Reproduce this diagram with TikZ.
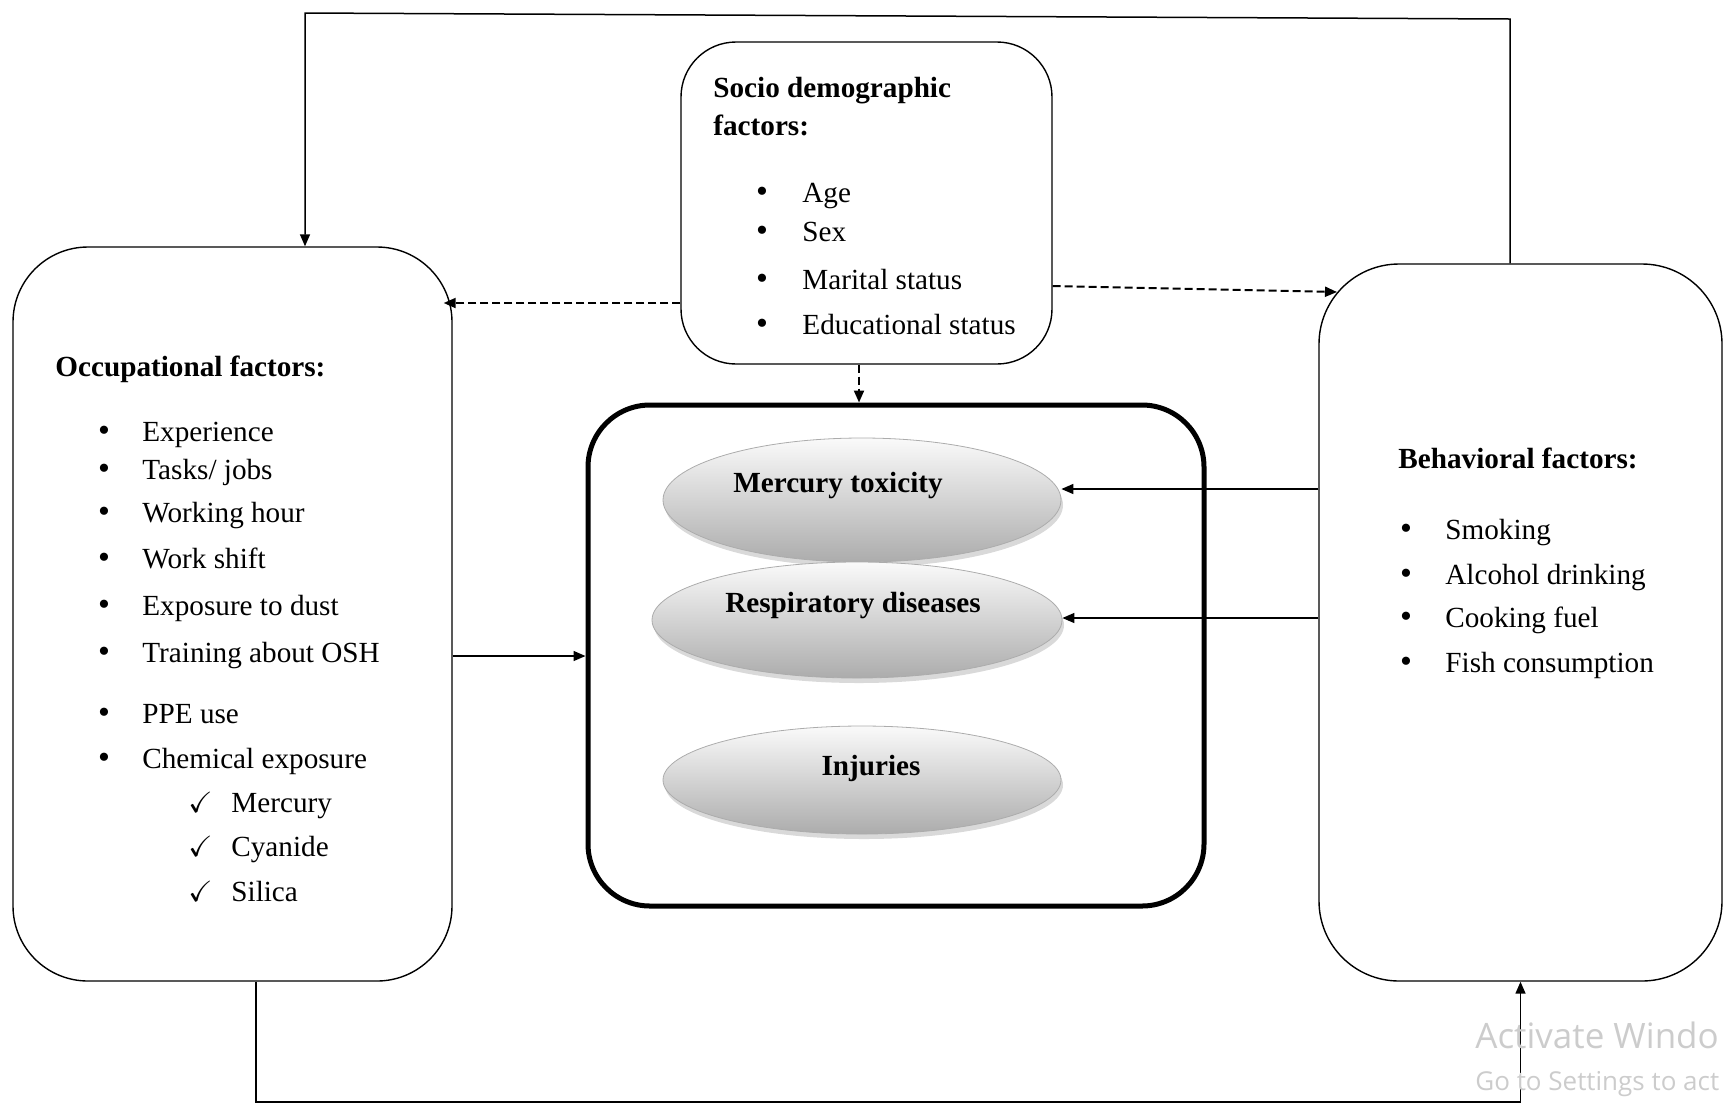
\documentclass[tikz,border=0pt]{standalone}
\usepackage{fontspec}
\setmainfont{Liberation Serif}
\newfontfamily\wmfont{Open Sans}
\usepackage{amssymb}
\usetikzlibrary{shapes.geometric,shadows,arrows.meta}
\begin{document}
\begin{tikzpicture}[x=0.5pt,y=-0.5pt,
  box/.style={draw, line width=0.7pt, rounded corners=#1, inner sep=0pt},
  conn/.style={line width=0.75pt},
  tipped/.style={line width=0.75pt, -{Triangle[length=6pt,width=5pt]}},
  dasharrow/.style={line width=1pt, dash pattern=on 4pt off 2pt, -{Triangle[length=6pt,width=5pt]}},
  oval/.style={ellipse, draw=gray!65, line width=0.4pt, top color=gray!4, bottom color=gray!65,
     drop shadow={shadow xshift=1pt, shadow yshift=-2.5pt, opacity=0.3}},
  txt/.style={anchor=base west, inner sep=0pt, font=\fontsize{14.6pt}{17pt}\selectfont},
  hd/.style={anchor=base west, inner sep=0pt, font=\fontsize{14.6pt}{17pt}\selectfont\bfseries},
  bul/.style={anchor=base, inner sep=0pt, font=\fontsize{17pt}{17pt}\selectfont},
  lab/.style={anchor=base, inner sep=0pt, font=\fontsize{14.6pt}{17pt}\selectfont\bfseries},
]
\useasboundingbox (0,0) rectangle (1724,1105);
\clip (0,0) rectangle (1724,1105);

% boxes
\node[box=37.5pt, minimum width=219.5pt, minimum height=367pt] (occ) at (232.5,614) {};
\node[box=27.5pt, minimum width=185.5pt, minimum height=161pt] (soc) at (866.5,203) {};
\node[box=40pt, minimum width=201.5pt, minimum height=358.5pt] (beh) at (1520.5,622.5) {};
\node[box=31pt, line width=2.5pt, minimum width=308pt, minimum height=250.5pt] (out) at (896,655.5) {};

% ellipses
\node[oval, minimum width=199pt, minimum height=62pt] (e1) at (862,500) {};
\node[oval, minimum width=205pt, minimum height=58pt] (e2) at (857,620) {};
\node[oval, minimum width=199pt, minimum height=54pt] (e3) at (862,780) {};
\node[lab] (l1) at (838,492) {Mercury toxicity};
\node[lab] (l2) at (853,612) {Respiratory diseases};
\node[lab] (l3) at (871,775) {Injuries};

% socio text
\node[hd] (s0) at (713,97) {Socio demographic};
\node[hd] (s00) at (713,135) {factors:};
\node[bul] (sb1) at (762,202) {•};
\node[txt] (s1) at (802,202) {Age};
\node[bul] (sb2) at (762,241) {•};
\node[txt] (s2) at (802,241) {Sex};
\node[bul] (sb3) at (762,289) {•};
\node[txt] (s3) at (802,289) {Marital status};
\node[bul] (sb4) at (762,334) {•};
\node[txt] (s4) at (802,334) {Educational status};

% occupational text
\node[hd] (o0) at (55,376) {Occupational factors:};
\node[bul] (ob1) at (104,441) {•};  \node[txt] (o1) at (142,441) {Experience};
\node[bul] (ob2) at (104,479) {•};  \node[txt] (o2) at (142,479) {Tasks/ jobs};
\node[bul] (ob3) at (104,522) {•};  \node[txt] (o3) at (142,522) {Working hour};
\node[bul] (ob4) at (104,568) {•};  \node[txt] (o4) at (142,568) {Work shift};
\node[bul] (ob5) at (104,615) {•};  \node[txt] (o5) at (142,615) {Exposure to dust};
\node[bul] (ob6) at (104,662) {•};  \node[txt] (o6) at (142,662) {Training about OSH};
\node[bul] (ob7) at (104,723) {•};  \node[txt] (o7) at (142,723) {PPE use};
\node[bul] (ob8) at (104,768) {•};  \node[txt] (o8) at (142,768) {Chemical exposure};
\node[txt] (oc1) at (188,812) {$\checkmark$}; \node[txt] (o9) at (231,812) {Mercury};
\node[txt] (oc2) at (188,856) {$\checkmark$}; \node[txt] (o10) at (231,856) {Cyanide};
\node[txt] (oc3) at (188,901) {$\checkmark$}; \node[txt] (o11) at (231,901) {Silica};

% behavioral text
\node[hd] (b0) at (1398,468) {Behavioral factors:};
\node[bul] (bb1) at (1406,539) {•}; \node[txt] (b1) at (1445,539) {Smoking};
\node[bul] (bb2) at (1406,584) {•}; \node[txt] (b2) at (1445,584) {Alcohol drinking};
\node[bul] (bb3) at (1406,627) {•}; \node[txt] (b3) at (1445,627) {Cooking fuel};
\node[bul] (bb4) at (1406,672) {•}; \node[txt] (b4) at (1445,672) {Fish consumption};

% helper coordinates
\coordinate (tl) at (305,13);
\coordinate (tr) at (1510,19);
\coordinate (bl) at (256,1102);
\coordinate (yl) at (0,303);
\coordinate (yr) at (0,286);
\coordinate (btip) at (1337,292);
\coordinate (vx) at (859,0);
\coordinate (ym) at (0,656);
\coordinate (y1) at (0,489);
\coordinate (y2) at (0,618);

% connectors
\draw[tipped] (tr |- beh.north) -- (tr) -- (tl) -- (tl |- occ.north);
\draw[tipped] (bl |- occ.south) -- (bl) -| (beh.south);
\draw[dasharrow, shorten >=-4.5pt] (soc.west |- yl) -- (occ.east |- yl);
\draw[dasharrow] (soc.east |- yr) -- (btip);
\draw[dasharrow] (vx |- soc.south) -- (vx |- out.north);
\draw[tipped] (occ.east |- ym) -- (out.west |- ym);
\draw[tipped] (beh.west |- y1) -- (e1.east |- y1);
\draw[tipped] (beh.west |- y2) -- (e2.east |- y2);

% watermark (as printed, cut at the right edge)
\node[anchor=base west, inner sep=0pt, text=gray!40, font=\wmfont\fontsize{17.5pt}{20pt}\selectfont] (wm1) at (1475,1048) {Activate Windo};
\node[anchor=base west, inner sep=0pt, text=gray!40, font=\wmfont\fontsize{13pt}{14pt}\selectfont] (wm2) at (1475,1090) {Go to Settings to act};
\end{tikzpicture}
\end{document}
